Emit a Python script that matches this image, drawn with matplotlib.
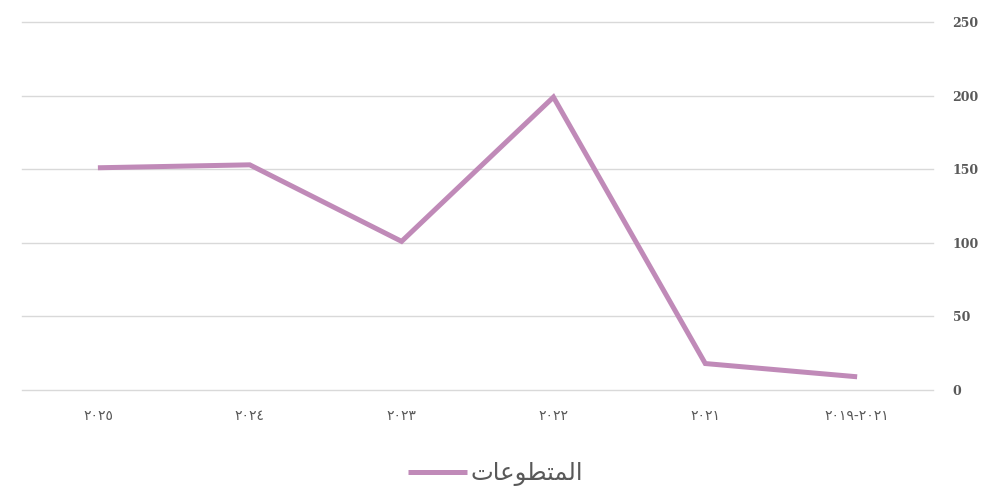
import matplotlib.pyplot as plt
import numpy as np

# data (left to right as drawn, right-to-left layout)
years = ["٢٠٢٥", "٢٠٢٤", "٢٠٢٣", "٢٠٢٢", "٢٠٢١", "٢٠١٩-٢٠٢١"]
volunteers = [151, 153, 101, 199, 18, 9]
y_ticks = [0, 50, 100, 150, 200, 250]

# "المتطوعات" shaped with presentation forms, in visual order
label = "\uFE95\uFE8E\uFECB\uFEEE\uFEC4\uFE98\uFEE4\uFEDF\uFE8D"

fig = plt.figure(figsize=(9.99, 4.9), dpi=100)
ax = fig.add_axes([0.022, 0.204, 0.912, 0.751])

x = np.arange(len(years))
ax.plot(x, volunteers, color="#C08AB8", linewidth=3.6, solid_capstyle="butt",
        solid_joinstyle="miter", label=label)

ax.set_xlim(-0.5, len(years) - 0.5)
ax.set_ylim(0, 250)
ax.set_yticks(y_ticks)
ax.yaxis.tick_right()
ax.grid(axis="y", color="#d9d9d9", linewidth=1)
for gl in ax.get_ygridlines():
    gl.set_clip_on(False)
ax.set_axisbelow(True)
for s in ax.spines.values():
    s.set_visible(False)

ax.set_xticks(x)
ax.set_xticklabels(years, family="DejaVu Sans", fontsize=10, color="#595959")
for t in ax.get_yticklabels():
    t.set_family("DejaVu Serif")
    t.set_fontsize(9)
    t.set_color("#595959")
    t.set_fontweight("bold")
    t.set_horizontalalignment("left")
ax.tick_params(axis="y", length=0, pad=14)
ax.tick_params(axis="x", length=0, pad=14)

leg = ax.legend(loc="center", bbox_to_anchor=(0.52, -0.228), frameon=False,
                handlelength=2.4, handletextpad=0.15,
                prop={"family": "DejaVu Sans", "size": 17.5})
for t in leg.get_texts():
    t.set_color("#595959")

plt.savefig("out.png", dpi=100)
